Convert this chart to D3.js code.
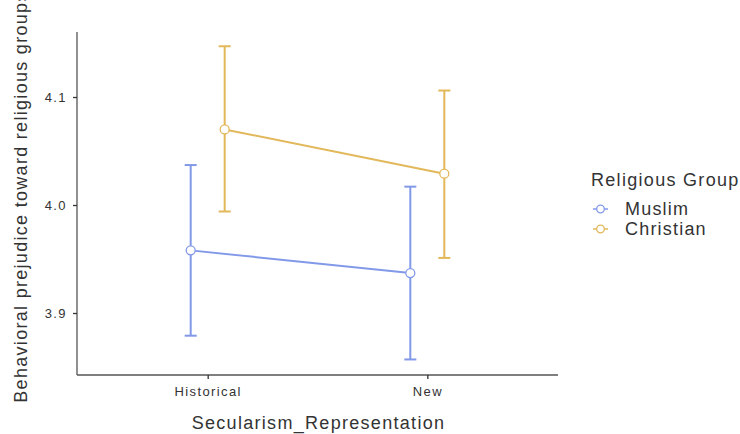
<!DOCTYPE html>
<html>
<head>
<meta charset="utf-8">
<script src="https://cdn.jsdelivr.net/npm/d3@7"></script>
<style>
  body { margin: 0; background: #fff; }
  text { font-family: "Liberation Sans", Arial, sans-serif; fill: #333; }
</style>
</head>
<body>
<svg id="chart" width="740" height="434"></svg>
<script>
var categories = ["Historical", "New"];
var groups = ["Muslim", "Christian"];
var colours = ["#8299e8", "#e2b85a"];
var means = [[3.958, 3.937], [4.070, 4.029]];
var lower = [[3.879, 3.857], [3.994, 3.951]];
var upper = [[4.037, 4.017], [4.147, 4.106]];
var yTicks = [3.9, 4.0, 4.1];

var svg = d3.select("#chart");
var mLeft = 77, mRight = 558, mTop = 32, mBottom = 375;

var x = d3.scalePoint().domain(categories).range([mLeft, mRight]).padding(0.595);
var dodge = d3.scalePoint().domain(groups).range([-17, 17]);
var y = d3.scaleLinear().domain([3.8426, 4.1602]).range([mBottom, mTop]);

// axes
var yAxis = svg.append("g").attr("transform", "translate(" + mLeft + ",0)")
    .call(d3.axisLeft(y).tickValues(yTicks).tickFormat(d3.format(".1f")).tickSizeOuter(0).tickSize(4));
var xAxis = svg.append("g").attr("transform", "translate(0," + mBottom + ")")
    .call(d3.axisBottom(x).tickSizeOuter(0).tickSize(4));
[yAxis, xAxis].forEach(function (a) {
    a.select(".domain").attr("stroke", "#555").attr("stroke-width", 1.3);
    a.selectAll(".tick line").attr("stroke", "#333").attr("stroke-width", 1.3);
    a.selectAll(".tick text").style("font-size", "13px").style("letter-spacing", "1.4px").attr("fill", "#444");
});
yAxis.select(".domain").attr("d", "M0," + mTop + "V" + mBottom);
xAxis.select(".domain").attr("d", "M" + mLeft + ",0H" + mRight);
yAxis.selectAll(".tick text").attr("x", -10);
xAxis.selectAll(".tick text").attr("y", 12);

groups.forEach(function (g, gi) {
    var col = colours[gi];
    var gg = svg.append("g");
    var px = function (i) { return x(categories[i]) + dodge(g); };

    gg.append("path")
        .datum(means[gi])
        .attr("fill", "none").attr("stroke", col).attr("stroke-width", 2)
        .attr("d", d3.line().x(function (d, i) { return px(i); }).y(function (d) { return y(d); }));

    categories.forEach(function (c, i) {
        var cx = px(i);
        gg.append("line").attr("x1", cx).attr("x2", cx)
            .attr("y1", y(lower[gi][i])).attr("y2", y(upper[gi][i]))
            .attr("stroke", col).attr("stroke-width", 2);
        [lower[gi][i], upper[gi][i]].forEach(function (v) {
            gg.append("line").attr("x1", cx - 6).attr("x2", cx + 6)
                .attr("y1", y(v)).attr("y2", y(v))
                .attr("stroke", col).attr("stroke-width", 2);
        });
    });

    gg.selectAll("circle").data(means[gi]).enter().append("circle")
        .attr("cx", function (d, i) { return px(i); })
        .attr("cy", function (d) { return y(d); })
        .attr("r", 4.5)
        .attr("fill", "#fff").attr("stroke", col).attr("stroke-width", 1.3);
});

// axis titles
svg.append("text")
    .attr("x", (mLeft + mRight) / 2 + 1).attr("y", 429)
    .attr("text-anchor", "middle").style("font-size", "18px").style("letter-spacing", "1.3px")
    .text("Secularism_Representation");
svg.append("text")
    .attr("transform", "translate(27,197) rotate(-90)")
    .attr("text-anchor", "middle").style("font-size", "18px").style("letter-spacing", "1.3px")
    .text("Behavioral prejudice toward religious groups");

// legend
var leg = svg.append("g").attr("transform", "translate(591,0)");
leg.append("text").attr("x", 0).attr("y", 186)
    .style("font-size", "18px").style("letter-spacing", "1.3px").text("Religious Group");
groups.forEach(function (g, gi) {
    var ly = 209 + gi * 20;
    leg.append("line").attr("x1", 2).attr("x2", 17).attr("y1", ly).attr("y2", ly)
        .attr("stroke", colours[gi]).attr("stroke-width", 1.5);
    leg.append("circle").attr("cx", 9.5).attr("cy", ly).attr("r", 3.8)
        .attr("fill", "#fff").attr("stroke", colours[gi]).attr("stroke-width", 1.3);
    leg.append("text").attr("x", 34).attr("y", ly + 6)
        .style("font-size", "18px").style("letter-spacing", "1.2px").text(g);
});
</script>
</body>
</html>
